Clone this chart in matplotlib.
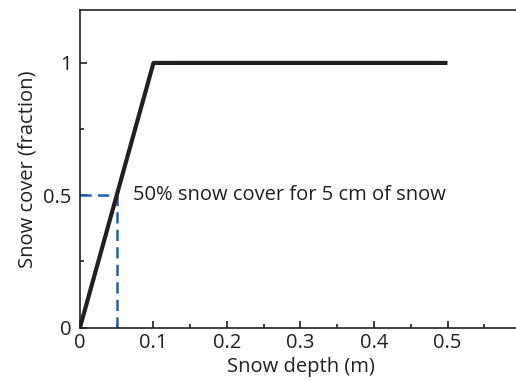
"""Snow cover fraction as a function of snow depth."""

import matplotlib

matplotlib.use("Agg")
import matplotlib.pyplot as plt
from matplotlib.ticker import MultipleLocator

# data
snow_depth = [0.0, 0.1, 0.5]
snow_cover = [0.0, 1.0, 1.0]
marker_depth = 0.05
marker_cover = 0.5
x_ticks = [0, 0.1, 0.2, 0.3, 0.4, 0.5]
x_tick_labels = ["0", "0.1", "0.2", "0.3", "0.4", "0.5"]
y_ticks = [0, 0.5, 1]
y_tick_labels = ["0", "0.5", "1"]
note = "50% snow cover for 5 cm of snow"

plt.rcParams["font.family"] = ["Open Sans", "DejaVu Sans"]

ink = "#231f20"
blue = "#1b63ae"
fs = 14.5

fig = plt.figure(figsize=(5.16, 3.81), dpi=100)
ax = fig.add_axes([0.155, 0.1404, 0.8547, 0.8333])

ax.plot([0, marker_depth], [marker_cover, marker_cover], color=blue, lw=1.8,
        dashes=(4.5, 2.5), clip_on=False, zorder=2)
ax.plot([marker_depth, marker_depth], [0, marker_cover], color=blue, lw=1.8,
        dashes=(4.5, 2.5), zorder=2)
ax.plot(snow_depth, snow_cover, color=ink, lw=3, solid_capstyle="butt",
        zorder=3)
ax.text(marker_depth + 0.022, marker_cover, note, fontsize=fs, va="center",
        ha="left", color=ink)

ax.set_xlim(0, 0.6)
ax.set_ylim(0, 1.2)
ax.set_xticks(x_ticks, x_tick_labels)
ax.set_yticks(y_ticks, y_tick_labels)
ax.xaxis.set_minor_locator(MultipleLocator(0.05))
ax.yaxis.set_minor_locator(MultipleLocator(0.25))
ax.tick_params(which="major", direction="in", length=5, width=1.2,
               labelsize=fs, colors=ink, pad=4)
ax.tick_params(which="minor", direction="in", length=3, width=1.2,
               colors=ink)
ax.tick_params(axis="y", pad=6)
ax.spines["right"].set_visible(False)
for side in ("left", "top", "bottom"):
    ax.spines[side].set_linewidth(1.2)
    ax.spines[side].set_color(ink)

ax.set_xlabel("Snow depth (m)", fontsize=fs, color=ink, labelpad=3)
ax.set_ylabel("Snow cover (fraction)", fontsize=fs, color=ink, labelpad=4)

fig.savefig("out.png", dpi=100)
